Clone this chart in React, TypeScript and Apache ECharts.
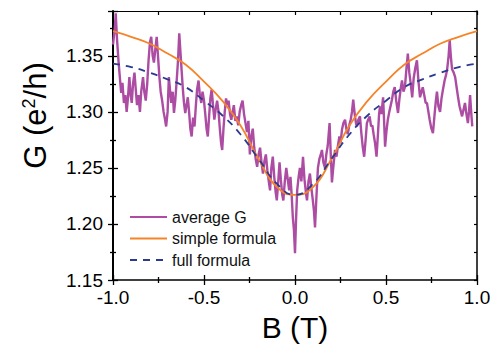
import React, { useEffect, useRef } from "react";
import * as echarts from "echarts";

const FONT = "'Liberation Sans', Arial, Helvetica, sans-serif";

// average G (measured)
const avgB = [
  -1.0, -0.99, -0.985, -0.978, -0.97, -0.962, -0.955, -0.948, -0.94, -0.932, -0.925, -0.918, -0.91, -0.903, -0.897,
  -0.89, -0.882, -0.875, -0.868, -0.86, -0.852, -0.845, -0.835, -0.828, -0.82, -0.812, -0.805, -0.797, -0.79, -0.782,
  -0.775, -0.768, -0.76, -0.752, -0.745, -0.738, -0.73, -0.722, -0.715, -0.708, -0.7, -0.693, -0.686, -0.68, -0.672,
  -0.665, -0.658, -0.65, -0.643, -0.636, -0.63, -0.623, -0.616, -0.61, -0.603, -0.596, -0.589, -0.582, -0.575, -0.568,
  -0.56, -0.552, -0.545, -0.538, -0.53, -0.523, -0.515, -0.508, -0.5, -0.493, -0.486, -0.479, -0.472, -0.465, -0.458,
  -0.45, -0.443, -0.436, -0.428, -0.42, -0.413, -0.406, -0.4, -0.393, -0.386, -0.379, -0.372, -0.365, -0.357, -0.35,
  -0.343, -0.336, -0.328, -0.32, -0.312, -0.304, -0.296, -0.288, -0.28, -0.272, -0.264, -0.256, -0.248, -0.24, -0.232,
  -0.224, -0.216, -0.208, -0.2, -0.192, -0.184, -0.176, -0.168, -0.16, -0.152, -0.144, -0.137, -0.13, -0.122, -0.114,
  -0.106, -0.1, -0.092, -0.085, -0.078, -0.07, -0.064, -0.056, -0.048, -0.04, -0.032, -0.025, -0.018, -0.012, -0.006,
  0.0, 0.006, 0.012, 0.02, 0.027, 0.035, 0.044, 0.052, 0.06, 0.066, 0.074, 0.082, 0.09, 0.098, 0.104,
  0.11, 0.118, 0.126, 0.134, 0.142, 0.148, 0.156, 0.165, 0.172, 0.18, 0.19, 0.197, 0.203, 0.21, 0.22,
  0.228, 0.236, 0.244, 0.25, 0.258, 0.266, 0.275, 0.282, 0.29, 0.298, 0.306, 0.313, 0.32, 0.328, 0.335,
  0.34, 0.348, 0.357, 0.364, 0.372, 0.38, 0.388, 0.395, 0.402, 0.41, 0.418, 0.425, 0.432, 0.44, 0.448,
  0.455, 0.462, 0.467, 0.475, 0.484, 0.49, 0.495, 0.502, 0.51, 0.518, 0.526, 0.533, 0.54, 0.548, 0.556,
  0.566, 0.574, 0.582, 0.588, 0.596, 0.604, 0.612, 0.62, 0.628, 0.636, 0.644, 0.652, 0.662, 0.67, 0.678,
  0.687, 0.695, 0.702, 0.71, 0.718, 0.725, 0.733, 0.74, 0.748, 0.758, 0.766, 0.774, 0.78, 0.788, 0.797,
  0.805, 0.813, 0.822, 0.83, 0.836, 0.844, 0.85, 0.856, 0.863, 0.872, 0.88, 0.888, 0.896, 0.904, 0.912,
  0.918, 0.926, 0.934, 0.942, 0.95, 0.956, 0.962, 0.968, 0.974,
];
const avgG = [
  1.36, 1.375, 1.388, 1.365, 1.346, 1.33, 1.317, 1.326, 1.308, 1.315, 1.3, 1.312, 1.331, 1.315, 1.308,
  1.325, 1.335, 1.32, 1.306, 1.315, 1.3, 1.318, 1.331, 1.318, 1.31, 1.325, 1.345, 1.362, 1.367, 1.35,
  1.344, 1.355, 1.367, 1.348, 1.331, 1.318, 1.31, 1.3, 1.294, 1.287, 1.3, 1.331, 1.318, 1.308, 1.318,
  1.299, 1.31, 1.328, 1.345, 1.37, 1.355, 1.337, 1.32, 1.308, 1.299, 1.306, 1.313, 1.3, 1.285, 1.278,
  1.295, 1.287, 1.305, 1.32, 1.328, 1.315, 1.308, 1.318, 1.31, 1.298, 1.285, 1.278, 1.296, 1.312, 1.32,
  1.305, 1.293, 1.302, 1.31, 1.3, 1.285, 1.272, 1.266, 1.285, 1.3, 1.312, 1.306, 1.31, 1.298, 1.293,
  1.3, 1.306, 1.292, 1.296, 1.288, 1.3, 1.306, 1.31, 1.298, 1.29, 1.282, 1.292, 1.262, 1.278, 1.285,
  1.268, 1.258, 1.251, 1.262, 1.268, 1.255, 1.245, 1.256, 1.262, 1.248, 1.238, 1.23, 1.25, 1.26, 1.242,
  1.228, 1.221, 1.238, 1.255, 1.24, 1.226, 1.221, 1.238, 1.25, 1.24, 1.23, 1.242, 1.225, 1.206, 1.195,
  1.174, 1.205, 1.23, 1.242, 1.25, 1.238, 1.26, 1.24, 1.228, 1.221, 1.238, 1.245, 1.232, 1.221, 1.212,
  1.197, 1.225, 1.25, 1.258, 1.262, 1.266, 1.255, 1.25, 1.262, 1.27, 1.29, 1.26, 1.237, 1.25, 1.266,
  1.26, 1.27, 1.278, 1.272, 1.284, 1.29, 1.293, 1.285, 1.28, 1.288, 1.293, 1.3, 1.311, 1.298, 1.29,
  1.287, 1.293, 1.296, 1.282, 1.269, 1.26, 1.275, 1.29, 1.293, 1.296, 1.287, 1.288, 1.28, 1.272, 1.26,
  1.278, 1.298, 1.305, 1.298, 1.313, 1.29, 1.269, 1.282, 1.293, 1.3, 1.306, 1.311, 1.318, 1.322, 1.31,
  1.299, 1.312, 1.322, 1.328, 1.318, 1.322, 1.338, 1.352, 1.335, 1.325, 1.313, 1.33, 1.34, 1.346, 1.328,
  1.313, 1.318, 1.322, 1.315, 1.308, 1.308, 1.3, 1.293, 1.286, 1.281, 1.296, 1.31, 1.318, 1.305, 1.3,
  1.312, 1.32, 1.328, 1.333, 1.338, 1.35, 1.364, 1.35, 1.338, 1.335, 1.331, 1.322, 1.313, 1.305, 1.3,
  1.296, 1.302, 1.308, 1.298, 1.29, 1.3, 1.315, 1.3, 1.287,
];

// formula curves
const fitB = [
  -1.0, -0.9, -0.8, -0.7, -0.6, -0.5, -0.4, -0.3, -0.2, -0.1, 0.0, 0.1, 0.2, 0.3, 0.4, 0.5, 0.6, 0.7, 0.8, 0.9, 1.0,
];
const simpleG = [
  1.372, 1.367, 1.361, 1.352, 1.342, 1.327, 1.31, 1.288, 1.258, 1.233, 1.226, 1.233, 1.258, 1.288, 1.31, 1.327, 1.342,
  1.352, 1.361, 1.367, 1.372,
];
const fullG = [
  1.343, 1.34, 1.335, 1.329, 1.322, 1.31, 1.297, 1.28, 1.258, 1.236, 1.226, 1.236, 1.258, 1.28, 1.297, 1.31, 1.322,
  1.329, 1.335, 1.34, 1.343,
];

const xTicks = [-1.0, -0.5, 0.0, 0.5, 1.0];
const yTicks = [1.15, 1.2, 1.25, 1.3, 1.35];

const zip = (a: number[], b: number[]) => a.map((v, i) => [v, b[i]]);

export default function App() {
  const ref = useRef<HTMLDivElement>(null);
  useEffect(() => {
    const chart = echarts.init(ref.current!, undefined, { renderer: "svg" });
    const black = "#000";
    const xCommon = { type: "value", min: -1, max: 1, splitLine: { show: false } };
    const yCommon = { type: "value", min: 1.15, max: 1.39, splitLine: { show: false } };
    chart.setOption({
      animation: false,
      backgroundColor: "#fff",
      textStyle: { fontFamily: FONT },
      grid: { left: 113, right: 17, top: 11, bottom: 64, containLabel: false, outerBoundsMode: "none" },
      legend: {
        orient: "vertical",
        left: 124,
        top: 204,
        itemWidth: 37,
        itemHeight: 14,
        itemGap: 5.5,
        itemStyle: { opacity: 0 },
        textStyle: { fontSize: 16, color: "#111", fontFamily: FONT },
        data: ["average G", "simple formula", "full formula"],
      },
      xAxis: [
        {
          ...xCommon,
          position: "bottom",
          interval: 0.5,
          name: "B (T)",
          nameLocation: "middle",
          nameGap: 32,
          nameTextStyle: { fontSize: 30, color: black, fontFamily: FONT },
          axisLine: { show: true, onZero: false, lineStyle: { color: black, width: 1.5 } },
          axisTick: { show: true, inside: false, length: 5, lineStyle: { color: black, width: 1.3 } },
          minorTick: { show: true, splitNumber: 2, length: 3, lineStyle: { color: black, width: 1.3 } },
          axisLabel: {
            fontSize: 19,
            color: black,
            margin: 8,
            fontFamily: FONT,
            formatter: (v: number) => (xTicks.some((t) => Math.abs(t - v) < 1e-6) ? v.toFixed(1) : ""),
          },
        },
        {
          ...xCommon,
          position: "bottom",
          interval: 0.5,
          axisLine: { show: false, onZero: false },
          axisTick: { show: true, inside: true, length: 5, lineStyle: { color: black, width: 1.3 } },
          minorTick: { show: true, splitNumber: 2, length: 3, lineStyle: { color: black, width: 1.3 } },
          axisLabel: { show: false },
        },
        {
          ...xCommon,
          position: "top",
          interval: 0.25,
          axisLine: { show: true, onZero: false, lineStyle: { color: black, width: 1 } },
          axisTick: { show: true, inside: true, length: 4, lineStyle: { color: black, width: 1.2 } },
          axisLabel: { show: false },
        },
      ],
      yAxis: [
        {
          ...yCommon,
          position: "left",
          interval: 0.05,
          name: "G (e{sup|2}/h)",
          nameLocation: "middle",
          nameGap: 62,
          nameTextStyle: {
            fontSize: 31,
            color: black,
            fontFamily: FONT,
            padding: [0, 0, 0, 60],
            rich: { sup: { fontSize: 18, verticalAlign: "top", color: black, fontFamily: FONT } },
          },
          axisLine: { show: true, onZero: false, lineStyle: { color: black, width: 2 } },
          axisTick: { show: true, inside: false, length: 5, lineStyle: { color: black, width: 1.3 } },
          minorTick: { show: true, splitNumber: 2, length: 3, lineStyle: { color: black, width: 1.3 } },
          axisLabel: {
            fontSize: 19,
            color: black,
            margin: 10,
            fontFamily: FONT,
            showMaxLabel: false,
            formatter: (v: number) => (yTicks.some((t) => Math.abs(t - v) < 1e-6) ? v.toFixed(2) : ""),
          },
        },
        {
          ...yCommon,
          position: "left",
          interval: 0.05,
          axisLine: { show: false, onZero: false },
          axisTick: { show: true, inside: true, length: 5, lineStyle: { color: black, width: 1.3 } },
          minorTick: { show: true, splitNumber: 2, length: 3, lineStyle: { color: black, width: 1.3 } },
          axisLabel: { show: false },
        },
        {
          ...yCommon,
          position: "right",
          interval: 0.025,
          axisLine: { show: true, onZero: false, lineStyle: { color: black, width: 1.5 } },
          axisTick: { show: true, inside: true, length: 3, lineStyle: { color: black, width: 1.2 } },
          axisLabel: { show: false },
        },
      ],
      series: [
        {
          name: "average G",
          type: "line",
          data: zip(avgB, avgG),
          symbol: "none",
          lineStyle: { color: "#AC4CA2", width: 2.4 },
          itemStyle: { color: "#AC4CA2" },
          z: 2,
        },
        {
          name: "simple formula",
          type: "line",
          data: zip(fitB, simpleG),
          smooth: true,
          symbol: "none",
          lineStyle: { color: "#F58428", width: 1.8 },
          itemStyle: { color: "#F58428" },
          z: 3,
        },
        {
          name: "full formula",
          type: "line",
          data: zip(fitB, fullG),
          smooth: true,
          symbol: "none",
          lineStyle: { color: "#2B3A8F", width: 1.8, type: [7, 6] },
          itemStyle: { color: "#2B3A8F" },
          z: 4,
        },
      ],
    });
    return () => chart.dispose();
  }, []);
  return <div ref={ref} style={{ position: "fixed", left: 0, top: 0, width: 494, height: 344 }} />;
}
